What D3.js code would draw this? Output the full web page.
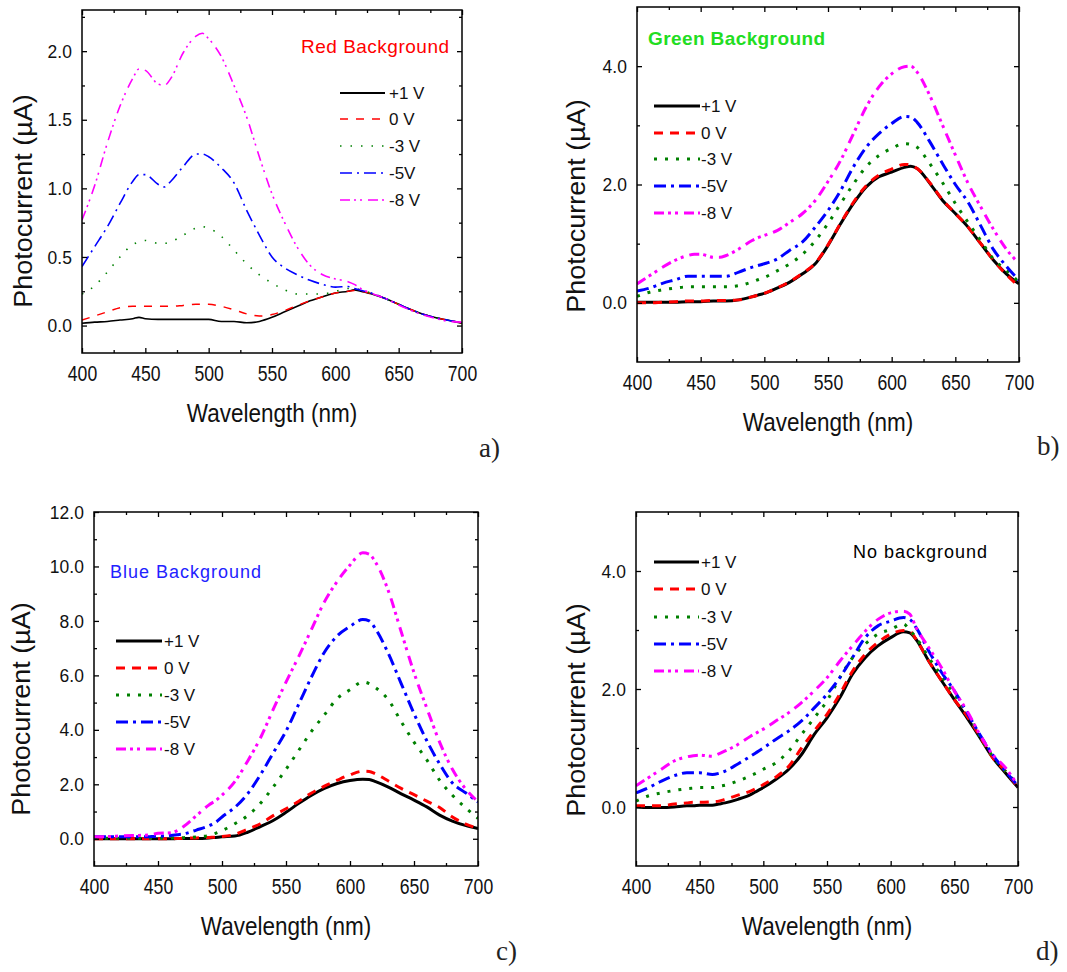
<!DOCTYPE html>
<html><head><meta charset="utf-8">
<script src="https://cdn.jsdelivr.net/npm/d3@7"></script>
<style>
html,body{margin:0;padding:0;background:#fff;}
svg{display:block;}
text{font-family:"Liberation Sans",Arial,sans-serif;}
</style></head><body>
<svg id="chart" width="1067" height="972"></svg>
<script>
// ---------- data ----------
const wavelength = [400,410,420,430,440,445,450,460,465,470,480,490,495,500,510,520,530,540,550,560,570,580,590,600,610,615,620,630,640,650,660,670,680,690,700];
const biasLabels = ["+1 V","0 V","-3 V","-5V","-8 V"];
const xTickValues = [400,450,500,550,600,650,700];
const xMinorTicks = [425,475,525,575,625,675];

// a) Red background
const redBgP1V = [0.017,0.025,0.03,0.04,0.05,0.06,0.05,0.045,0.045,0.045,0.045,0.045,0.045,0.045,0.03,0.03,0.02,0.03,0.06,0.10,0.14,0.18,0.21,0.237,0.25,0.26,0.25,0.227,0.195,0.155,0.115,0.08,0.056,0.037,0.017];
const redBg0V  = [0.04,0.07,0.10,0.13,0.14,0.14,0.14,0.14,0.14,0.14,0.147,0.155,0.155,0.155,0.14,0.115,0.085,0.07,0.08,0.11,0.147,0.18,0.21,0.237,0.25,0.255,0.25,0.23,0.195,0.155,0.115,0.08,0.056,0.037,0.02];
const redBgM3V = [0.23,0.29,0.39,0.50,0.59,0.61,0.62,0.60,0.60,0.61,0.66,0.71,0.72,0.71,0.65,0.55,0.45,0.37,0.31,0.26,0.23,0.23,0.23,0.25,0.27,0.27,0.26,0.23,0.195,0.155,0.115,0.08,0.056,0.037,0.02];
const redBgM5V = [0.43,0.575,0.72,0.89,1.05,1.10,1.10,1.03,1.01,1.05,1.16,1.25,1.25,1.23,1.15,1.04,0.84,0.66,0.50,0.42,0.37,0.33,0.30,0.28,0.285,0.27,0.257,0.232,0.195,0.155,0.115,0.08,0.056,0.037,0.02];
const redBgM8V = [0.77,1.02,1.33,1.60,1.80,1.87,1.86,1.76,1.75,1.80,1.99,2.11,2.13,2.09,1.96,1.75,1.52,1.23,0.96,0.75,0.57,0.44,0.37,0.34,0.32,0.30,0.27,0.23,0.195,0.15,0.11,0.075,0.05,0.03,0.025];

// b) Green background
const greenBgP1V = [0.01,0.01,0.01,0.01,0.02,0.02,0.02,0.03,0.03,0.03,0.05,0.10,0.13,0.16,0.25,0.35,0.49,0.66,0.97,1.34,1.68,1.96,2.13,2.21,2.29,2.31,2.27,2.02,1.73,1.51,1.28,1.0,0.72,0.49,0.32];
const greenBg0V  = [0.0,0.0,0.01,0.02,0.03,0.03,0.03,0.04,0.04,0.04,0.05,0.10,0.13,0.16,0.25,0.36,0.50,0.67,0.98,1.35,1.70,1.98,2.16,2.26,2.34,2.33,2.27,2.03,1.74,1.51,1.28,1.0,0.72,0.48,0.28];
const greenBgM3V = [0.11,0.18,0.22,0.25,0.27,0.27,0.27,0.27,0.27,0.27,0.29,0.35,0.39,0.43,0.54,0.66,0.82,1.05,1.34,1.68,2.01,2.30,2.49,2.61,2.69,2.68,2.63,2.35,2.03,1.68,1.36,1.05,0.74,0.55,0.35];
const greenBgM5V = [0.20,0.25,0.33,0.39,0.45,0.45,0.45,0.45,0.45,0.45,0.52,0.60,0.63,0.66,0.74,0.89,1.03,1.28,1.56,1.90,2.30,2.63,2.86,3.03,3.15,3.14,3.05,2.72,2.35,2.0,1.7,1.3,0.9,0.62,0.38];
const greenBgM8V = [0.32,0.46,0.60,0.72,0.80,0.82,0.82,0.77,0.77,0.80,0.91,1.05,1.10,1.14,1.22,1.36,1.51,1.73,2.05,2.41,2.86,3.31,3.65,3.87,3.99,4.0,3.9,3.5,3.0,2.5,2.02,1.62,1.24,0.91,0.66];

// c) Blue background
const blueBgP1V = [0.0,0.0,0.0,0.0,0.0,0.0,0.0,0.0,0.01,0.01,0.01,0.03,0.05,0.07,0.10,0.24,0.45,0.67,0.97,1.30,1.60,1.85,2.03,2.14,2.19,2.18,2.10,1.90,1.65,1.42,1.17,0.87,0.65,0.49,0.38];
const blueBg0V  = [0.0,0.0,0.0,0.0,0.0,0.0,0.0,0.0,0.01,0.02,0.03,0.05,0.06,0.08,0.16,0.35,0.55,0.85,1.10,1.38,1.68,1.93,2.15,2.35,2.48,2.47,2.38,2.12,1.85,1.62,1.38,1.15,0.80,0.55,0.38];
const blueBgM3V = [0.02,0.02,0.02,0.02,0.02,0.02,0.02,0.03,0.03,0.04,0.07,0.12,0.2,0.3,0.55,0.85,1.3,1.9,2.55,3.25,3.95,4.55,5.15,5.47,5.76,5.7,5.55,5.1,4.3,3.55,2.9,2.15,1.6,1.15,0.75];
const blueBgM5V = [0.07,0.07,0.07,0.07,0.07,0.08,0.09,0.12,0.15,0.18,0.32,0.48,0.6,0.8,1.15,1.65,2.35,3.15,3.95,4.95,5.95,6.85,7.45,7.8,8.05,8.0,7.7,6.8,5.7,4.6,3.6,2.75,2.05,1.7,1.35];
const blueBgM8V = [0.07,0.08,0.1,0.12,0.13,0.15,0.2,0.22,0.3,0.45,0.85,1.25,1.4,1.6,2.1,2.85,3.7,4.75,5.75,6.7,7.7,8.7,9.45,10.05,10.5,10.45,10.15,9.1,7.6,6.1,4.8,3.55,2.55,1.85,1.36];

// d) No background
const noBgP1V = [0.0,-0.01,-0.01,0.0,0.02,0.02,0.03,0.03,0.05,0.07,0.13,0.21,0.27,0.33,0.47,0.64,0.89,1.23,1.51,1.85,2.25,2.53,2.73,2.87,2.97,2.95,2.84,2.47,2.14,1.82,1.51,1.18,0.84,0.58,0.33];
const noBg0V  = [0.02,0.02,0.02,0.05,0.07,0.08,0.08,0.09,0.1,0.13,0.2,0.27,0.32,0.38,0.51,0.69,1.0,1.29,1.57,1.91,2.3,2.59,2.79,2.93,2.99,2.98,2.84,2.47,2.14,1.82,1.54,1.2,0.84,0.61,0.33];
const noBgM3V = [0.1,0.19,0.24,0.28,0.31,0.32,0.33,0.33,0.35,0.37,0.44,0.53,0.58,0.64,0.75,0.95,1.23,1.51,1.8,2.19,2.53,2.76,2.93,3.01,3.1,3.0,2.87,2.53,2.22,1.91,1.6,1.2,0.86,0.61,0.38];
const noBgM5V = [0.24,0.33,0.44,0.53,0.58,0.58,0.58,0.55,0.57,0.61,0.73,0.86,0.93,1.0,1.15,1.29,1.46,1.68,1.91,2.19,2.53,2.87,3.07,3.15,3.21,3.18,3.04,2.64,2.28,1.97,1.6,1.23,0.89,0.61,0.36];
const noBgM8V = [0.36,0.5,0.64,0.78,0.85,0.87,0.88,0.86,0.9,0.95,1.06,1.2,1.26,1.32,1.46,1.6,1.77,1.97,2.19,2.47,2.73,2.98,3.18,3.29,3.32,3.27,3.04,2.7,2.36,1.97,1.63,1.23,0.89,0.67,0.36];

// ---------- styling ----------
const seriesColors = ["#000000","#ff0000","#008000","#0000ff","#ff00ff"];
const dashThick = ["", "9,7", "3,8", "12,5,3,5", "10,4,3,4,3,6"];
const dashThin  = ["", "8,8", "1.5,9", "12,5,2,5", "10,4,2,4,2,6"];

const panels = [
  {id:"a", series:[redBgP1V,redBg0V,redBgM3V,redBgM5V,redBgM8V], yDomain:[-0.2,2.3],
   yMajor:[0,0.5,1,1.5,2], yMinor:[0.25,0.75,1.25,1.75,2.25],
   box:{l:82,r:462,t:10,b:353}, thin:true,
   legend:{x1:340,x2:385,tx:389,rows:[93,119,146,173,200]},
   note:{text:"Red Background",x:301,y:53,fill:"#ff0000",weight:"normal",size:19,ls:0.5},
   tag:{text:"a)",x:479,y:457}, ytitle:{x:32,y:201}},
  {id:"b", series:[greenBgP1V,greenBg0V,greenBgM3V,greenBgM5V,greenBgM8V], yDomain:[-1,5],
   yMajor:[0,2,4], yMinor:[1,3],
   box:{l:637,r:1019,t:7,b:362}, thin:false,
   legend:{x1:654,x2:700,tx:701,rows:[106,133,159,186,213]},
   note:{text:"Green Background",x:648,y:45,fill:"#22dd22",weight:"bold",size:19,ls:0.4},
   tag:{text:"b)",x:1037,y:455}, ytitle:{x:585,y:206}},
  {id:"c", series:[blueBgP1V,blueBg0V,blueBgM3V,blueBgM5V,blueBgM8V], yDomain:[-1,12],
   yMajor:[0,2,4,6,8,10,12], yMinor:[1,3,5,7,9,11],
   box:{l:94,r:478,t:512,b:866}, thin:false,
   legend:{x1:116,x2:162,tx:164,rows:[641,668,695,722,749]},
   note:{text:"Blue Background",x:110,y:578,fill:"#2222ff",weight:"normal",size:18,ls:1},
   tag:{text:"c)",x:496,y:960}, ytitle:{x:30,y:709}},
  {id:"d", series:[noBgP1V,noBg0V,noBgM3V,noBgM5V,noBgM8V], yDomain:[-1,5],
   yMajor:[0,2,4], yMinor:[1,3],
   box:{l:636,r:1018,t:512,b:866}, thin:false,
   legend:{x1:654,x2:699,tx:701,rows:[562,589,617,644,671]},
   note:{text:"No background",x:853,y:558,fill:"#000000",weight:"normal",size:18,ls:1},
   tag:{text:"d)",x:1036,y:960}, ytitle:{x:585,y:710}}
];

const svg = d3.select("#chart");
svg.append("rect").attr("width",1067).attr("height",972).attr("fill","#fff");
const defs = svg.append("defs");

panels.forEach(p => {
  const x = d3.scaleLinear().domain([400,700]).range([p.box.l, p.box.r]);
  const y = d3.scaleLinear().domain(p.yDomain).range([p.box.b, p.box.t]);
  const g = svg.append("g").attr("class","panel-"+p.id);
  const clipId = "clip-"+p.id;
  defs.append("clipPath").attr("id",clipId).append("rect")
    .attr("x",p.box.l).attr("y",p.box.t).attr("width",p.box.r-p.box.l).attr("height",p.box.b-p.box.t);

  const dashes = p.thin ? dashThin : dashThick;
  const widths = p.thin ? [1.6,1.5,1.6,1.6,1.6] : [3,3,3,3,3];

  const line = d3.line().x((d,i)=>x(wavelength[i])).y(d=>y(d)).curve(d3.curveMonotoneX);
  const curves = g.append("g").attr("clip-path",`url(#${clipId})`);
  p.series.forEach((s,k)=>{
    curves.append("path").attr("d",line(s)).attr("fill","none")
      .attr("stroke",seriesColors[k]).attr("stroke-width",widths[k])
      .attr("stroke-dasharray",dashes[k]||null).attr("stroke-linejoin","round");
  });

  // axes
  const styleAxis = sel => {
    sel.select(".domain").remove();
    sel.selectAll(".tick line").attr("stroke","#000").attr("stroke-width",1.3);
    sel.attr("font-family",null).attr("font-size",null);
  };
  const xb = g.append("g").attr("transform",`translate(0,${p.box.b})`)
    .call(d3.axisBottom(x).tickValues(xTickValues).tickSize(-5).tickSizeOuter(0).tickPadding(12).tickFormat(d3.format("d")))
    .call(styleAxis);
  xb.selectAll(".tick text").attr("font-size",22).attr("fill","#111").attr("transform","scale(0.8,1)");
  g.append("g").attr("transform",`translate(0,${p.box.b})`)
    .call(d3.axisBottom(x).tickValues(xMinorTicks).tickSize(-3).tickSizeOuter(0).tickFormat(""))
    .call(styleAxis);
  g.append("g").attr("transform",`translate(0,${p.box.t})`)
    .call(d3.axisTop(x).tickValues(xTickValues).tickSize(-5).tickSizeOuter(0).tickFormat(""))
    .call(styleAxis);
  g.append("g").attr("transform",`translate(0,${p.box.t})`)
    .call(d3.axisTop(x).tickValues(xMinorTicks).tickSize(-3).tickSizeOuter(0).tickFormat(""))
    .call(styleAxis);

  const yl = g.append("g").attr("transform",`translate(${p.box.l},0)`)
    .call(d3.axisLeft(y).tickValues(p.yMajor).tickSize(-5).tickSizeOuter(0).tickPadding(11).tickFormat(d3.format(".1f")))
    .call(styleAxis);
  yl.selectAll(".tick text").attr("font-size",19).attr("fill","#111").attr("transform","scale(0.92,1)");
  g.append("g").attr("transform",`translate(${p.box.l},0)`)
    .call(d3.axisLeft(y).tickValues(p.yMinor).tickSize(-3).tickSizeOuter(0).tickFormat(""))
    .call(styleAxis);
  g.append("g").attr("transform",`translate(${p.box.r},0)`)
    .call(d3.axisRight(y).tickValues(p.yMajor).tickSize(-5).tickSizeOuter(0).tickFormat(""))
    .call(styleAxis);
  g.append("g").attr("transform",`translate(${p.box.r},0)`)
    .call(d3.axisRight(y).tickValues(p.yMinor).tickSize(-3).tickSizeOuter(0).tickFormat(""))
    .call(styleAxis);

  // frame
  g.append("rect").attr("x",p.box.l).attr("y",p.box.t)
    .attr("width",p.box.r-p.box.l).attr("height",p.box.b-p.box.t)
    .attr("fill","none").attr("stroke","#000").attr("stroke-width",1.5);

  // axis titles
  g.append("text").attr("transform",`translate(${(p.box.l+p.box.r)/2},${p.box.b+69}) scale(0.9,1)`)
    .attr("text-anchor","middle").attr("font-size",25).attr("fill","#111").text("Wavelength (nm)");
  g.append("text").attr("transform",`translate(${p.ytitle.x},${p.ytitle.y}) rotate(-90) scale(1.08,1)`)
    .attr("text-anchor","middle").attr("font-size",25).attr("fill","#111").text("Photocurrent (\u00B5A)");

  // legend
  const lg = g.append("g");
  biasLabels.forEach((lab,k)=>{
    const ry = p.legend.rows[k];
    lg.append("line").attr("x1",p.legend.x1).attr("x2",p.legend.x2).attr("y1",ry).attr("y2",ry)
      .attr("stroke",seriesColors[k]).attr("stroke-width",p.thin?(k===0?2:1.6):3)
      .attr("stroke-dasharray",dashes[k]||null);
    lg.append("text").attr("x",p.legend.tx).attr("y",ry+6).attr("font-size",17).attr("fill","#111").text(lab);
  });

  // background note
  g.append("text").attr("x",p.note.x).attr("y",p.note.y).attr("font-size",p.note.size)
    .attr("font-weight",p.note.weight).attr("letter-spacing",p.note.ls).attr("fill",p.note.fill).text(p.note.text);

  // panel tag
  g.append("text").attr("x",p.tag.x).attr("y",p.tag.y).attr("font-size",27)
    .attr("fill","#222").style("font-family","'Liberation Serif','DejaVu Serif',serif").text(p.tag.text);
});
</script>
</body></html>
